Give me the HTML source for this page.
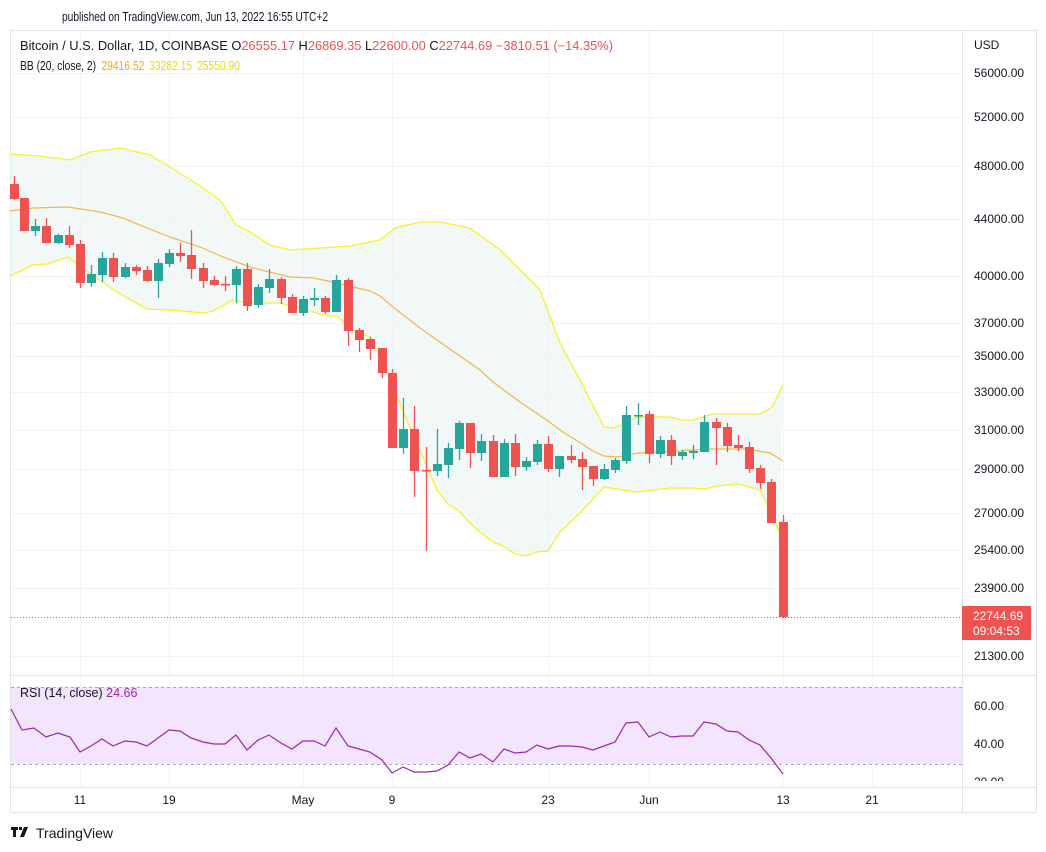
<!DOCTYPE html>
<html><head><meta charset="utf-8"><style>
html,body{margin:0;padding:0;background:#fff;}
svg{display:block;font-family:"Liberation Sans",sans-serif;}
</style></head><body>
<svg width="1046" height="852" viewBox="0 0 1046 852" xmlns="http://www.w3.org/2000/svg">
<rect width="1046" height="852" fill="#fff"/>
<text x="62" y="21" font-size="13" fill="#131722" textLength="266" lengthAdjust="spacingAndGlyphs">published on TradingView.com, Jun 13, 2022 16:55 UTC+2</text>
<rect x="10.5" y="30.5" width="1026" height="782" fill="none" stroke="#e0e3eb"/>
<g stroke="#f0f3fa" stroke-width="1">
<line x1="11" x2="962" y1="73.5" y2="73.5"/><line x1="11" x2="962" y1="117.5" y2="117.5"/><line x1="11" x2="962" y1="166.5" y2="166.5"/><line x1="11" x2="962" y1="219.5" y2="219.5"/><line x1="11" x2="962" y1="276.5" y2="276.5"/><line x1="11" x2="962" y1="323.5" y2="323.5"/><line x1="11" x2="962" y1="356.5" y2="356.5"/><line x1="11" x2="962" y1="392.5" y2="392.5"/><line x1="11" x2="962" y1="430.5" y2="430.5"/><line x1="11" x2="962" y1="469.5" y2="469.5"/><line x1="11" x2="962" y1="513.5" y2="513.5"/><line x1="11" x2="962" y1="550.5" y2="550.5"/><line x1="11" x2="962" y1="588.5" y2="588.5"/><line x1="11" x2="962" y1="656.5" y2="656.5"/>
<line x1="11" x2="962" y1="706.5" y2="706.5"/><line x1="11" x2="962" y1="744.5" y2="744.5"/>
<line x1="80.5" x2="80.5" y1="31" y2="787"/><line x1="169.5" x2="169.5" y1="31" y2="787"/><line x1="303.5" x2="303.5" y1="31" y2="787"/><line x1="392.5" x2="392.5" y1="31" y2="787"/><line x1="548.5" x2="548.5" y1="31" y2="787"/><line x1="649.5" x2="649.5" y1="31" y2="787"/><line x1="783.5" x2="783.5" y1="31" y2="787"/><line x1="872.5" x2="872.5" y1="31" y2="787"/>
</g>
<path d="M10,154 L40,156 L70,160 L90,152 L120,148 L150,155 L175,170 L200,186 L220,200 L236,225 L250,232 L270,245 L290,250 L320,248 L350,246 L380,240 L395,228 L420,222 L440,222 L470,228 L500,250 L520,270 L540,290 L555,330 L560,343 L580,380 L604,427 L615,428 L637,417 L670,417 L683,420 L693,420 L713,414 L760,414 L772,407 L783,385 L779,533 L775,520 L760,490 L738,484 L717,486 L705,489 L693,488 L670,488 L637,492 L604,487 L580,513 L560,532 L548,551 L537,552 L526,556 L515,554 L503,546 L493,542 L480,532 L470,523 L460,512 L448,504 L437,490 L410,428 L385,367 L380,357 L370,337 L353,330 L337,316 L327,316 L300,308 L280,303 L247,303 L233,300 L213,311 L203,313 L170,310 L147,309 L115,291 L97,278 L80,267 L68,257 L47,264 L33,265 L12,275 L10,276 Z" fill="#e8f3f1" fill-opacity="0.6"/>
<polyline fill="none" stroke="#f5f22a" stroke-width="1.3" points="10,154 40,156 70,160 90,152 120,148 150,155 175,170 200,186 220,200 236,225 250,232 270,245 290,250 320,248 350,246 380,240 395,228 420,222 440,222 470,228 500,250 520,270 540,290 555,330 560,343 580,380 604,427 615,428 637,417 670,417 683,420 693,420 713,414 760,414 772,407 783,385"/>
<polyline fill="none" stroke="#f5f22a" stroke-width="1.3" points="10,276 12,275 33,265 47,264 68,257 80,267 97,278 115,291 147,309 170,310 203,313 213,311 233,300 247,303 280,303 300,308 327,316 337,316 353,330 370,337 380,357 385,367 410,428 437,490 448,504 460,512 470,523 480,532 493,542 503,546 515,554 526,556 537,552 548,551 560,532 580,513 604,487 637,492 670,488 693,488 705,489 717,486 738,484 760,490 775,520 779,533"/>
<polyline fill="none" stroke="#f0b84a" stroke-width="1.2" points="10,211 33,208 68,207 100,212 123,218 147,228 170,237 200,247 223,257 253,268 290,277 313,278 333,282 353,287 370,291 380,296 393,307 420,328 423,330 437,340 480,370 493,382 520,402 548,421 560,430 593,451 604,456 618,457 638,453 713,449 747,449 770,453 783,461"/>
<g id="candles"></g>
<line x1="11" x2="962" y1="617.5" y2="617.5" stroke="#ef5350" stroke-dasharray="1,2"/>
<line x1="11" x2="1036" y1="675.5" y2="675.5" stroke="#e0e3eb"/>
<rect x="11" y="687" width="951" height="77" fill="#f3e5fd"/>
<line x1="11" x2="962" y1="687.5" y2="687.5" stroke="#aaa" stroke-dasharray="3,3"/>
<line x1="11" x2="962" y1="764.5" y2="764.5" stroke="#aaa" stroke-dasharray="3,3"/>
<polyline fill="none" stroke="#9c27b0" stroke-width="1.2" points="11,709 22,730 34,728 46,737 58,733 70,737 80,752 91,746 102,739 113,746 125,741 136,742 147,746 158,738 169,730 180,731 191,738 203,742 214,744 225,744 236,735 247,750 258,740 269,735 281,743 292,749 303,741 314,741 325,746 336,728 348,746 359,749 370,752 382,760 392,773 403,767 414,772 426,772 437,771 448,765 459,752 470,758 481,754 493,762 504,749 515,753 526,752 537,745 548,749 559,746 571,746 582,747 593,750 604,746 615,742 626,723 638,722 649,737 660,732 671,737 682,736 693,736 704,722 716,724 727,731 738,732 749,740 760,745 771,758 783,774"/>
<text x="20" y="697" font-size="12.5" fill="#131722">RSI (14, close) <tspan fill="#9c27b0">24.66</tspan></text>
<line x1="962.5" x2="962.5" y1="31" y2="812" stroke="#e0e3eb"/>
<line x1="11" x2="1036" y1="787.5" y2="787.5" stroke="#e0e3eb"/>
<g font-size="12" fill="#131722">
<text x="974" y="49">USD</text>
<text x="974" y="77">56000.00</text><text x="974" y="121">52000.00</text><text x="974" y="170">48000.00</text><text x="974" y="223">44000.00</text><text x="974" y="280">40000.00</text><text x="974" y="327">37000.00</text><text x="974" y="360">35000.00</text><text x="974" y="396">33000.00</text><text x="974" y="434">31000.00</text><text x="974" y="473">29000.00</text><text x="974" y="517">27000.00</text><text x="974" y="554">25400.00</text><text x="974" y="592">23900.00</text><text x="974" y="660">21300.00</text>
<text x="974" y="710">60.00</text><text x="974" y="748">40.00</text><text x="974" y="786">20.00</text>
</g>
<rect x="962" y="606" width="69" height="34" fill="#ef5350" rx="1"/>
<text x="973" y="620" font-size="12" fill="#fff">22744.69</text>
<text x="973" y="635" font-size="12" fill="#fff">09:04:53</text>
<rect x="963" y="781" width="73" height="6" fill="#fff"/>
<g font-size="12" fill="#131722" text-anchor="middle">
<text x="80" y="804">11</text><text x="169" y="804">19</text><text x="303" y="804">May</text><text x="392" y="804">9</text><text x="548" y="804">23</text><text x="649" y="804">Jun</text><text x="783" y="804">13</text><text x="872" y="804">21</text>
</g>
<text x="20" y="50" font-size="12.5" fill="#131722" textLength="593" lengthAdjust="spacingAndGlyphs">Bitcoin / U.S. Dollar, 1D, COINBASE  O<tspan fill="#ef5350">26555.17</tspan>  H<tspan fill="#ef5350">26869.35</tspan>  L<tspan fill="#ef5350">22600.00</tspan>  C<tspan fill="#ef5350">22744.69</tspan>  <tspan fill="#ef5350">−3810.51 (−14.35%)</tspan></text>
<text x="20" y="70" font-size="12.5" fill="#131722" textLength="220" lengthAdjust="spacingAndGlyphs">BB (20, close, 2) <tspan fill="#f5a623" dx="3">29416.52</tspan><tspan fill="#e8e000" dx="6">33282.15</tspan><tspan fill="#e8e000" dx="6">25550.90</tspan></text>
<g fill="#131722"><rect x="11" y="827" width="7" height="3"/><rect x="13" y="827" width="3" height="10"/><rect x="19" y="827" width="3" height="3"/><path d="M24,827 L28,827 L24,837 L20,837 Z"/></g>
<text x="36" y="838" font-size="14" fill="#131722">TradingView</text>
</svg>
<script>
var d=[[14,'r',184,199,176,200],[24,'r',198,231,198,231],[35,'g',226,231,219,236],[46,'r',226,243,218,243],[58,'g',235,243,234,244],[69,'r',235,245,226,248],[80,'r',244,283,240,288],[91,'g',274,283,265,287],[102,'g',258,275,252,282],[113,'r',258,277,253,282],[125,'g',267,277,263,278],[136,'r',267,271,265,275],[147,'r',270,281,266,282],[158,'g',263,281,259,298],[169,'g',253,264,249,267],[180,'r',253,256,243,262],[191,'r',255,269,230,279],[203,'r',268,281,263,288],[214,'r',280,285,276,286],[225,'r',284,284,276,291],[236,'g',269,285,266,303],[247,'r',269,306,263,311],[258,'g',287,305,284,308],[269,'g',279,288,269,293],[281,'r',279,298,277,304],[292,'r',297,313,294,313],[303,'g',299,313,296,316],[314,'g',298,300,288,306],[325,'r',298,312,296,314],[336,'g',280,312,275,312],[348,'r',280,331,278,346],[359,'r',330,340,328,352],[370,'r',339,349,337,360],[382,'r',348,373,348,378],[392,'r',373,448,369,448],[403,'g',429,448,398,454],[414,'r',429,471,406,497],[426,'r',470,471,447,551],[437,'g',464,471,429,476],[448,'g',448,465,443,478],[459,'g',423,449,421,460],[470,'r',423,453,423,468],[481,'g',441,453,434,461],[493,'r',441,477,435,477],[504,'g',443,477,439,477],[515,'r',443,467,434,476],[526,'g',461,467,457,471],[537,'g',444,462,440,465],[548,'r',444,469,436,472],[559,'g',456,469,456,477],[571,'r',456,460,445,463],[582,'r',459,467,452,490],[593,'r',466,479,466,486],[604,'g',469,479,464,480],[615,'g',460,470,458,473],[626,'g',415,461,406,464],[638,'g',415,416,403,425],[649,'r',414,454,411,463],[660,'g',440,454,436,458],[671,'r',440,456,435,465],[682,'g',452,456,450,460],[693,'g',451,453,445,459],[704,'g',422,452,415,452],[716,'r',422,428,418,465],[727,'r',427,446,423,452],[738,'r',445,448,435,451],[749,'r',447,469,442,473],[760,'r',468,483,465,489],[771,'r',482,523,479,523],[783,'r',522,617,515,618]];
var g=document.getElementById('candles'),s='';
d.forEach(function(c){var col=c[1]=='r'?'#ef5350':'#26a69a';var h=Math.max(c[3]-c[2],1.5);
s+='<line x1="'+(c[0]+0.5)+'" x2="'+(c[0]+0.5)+'" y1="'+c[4]+'" y2="'+c[5]+'" stroke="'+col+'" stroke-width="1.3"/>';
s+='<rect x="'+(c[0]-4)+'" y="'+c[2]+'" width="9" height="'+h+'" fill="'+col+'"/>';});
g.innerHTML=s;
</script>
</body></html>
